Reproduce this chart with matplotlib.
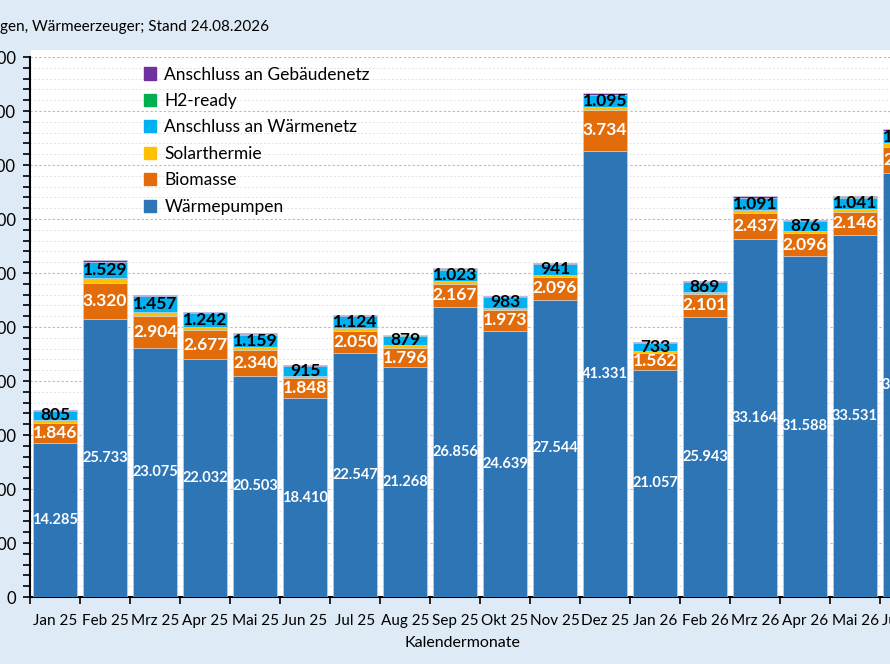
import matplotlib
matplotlib.use("Agg")
import matplotlib.pyplot as plt
import matplotlib.patches as mpatches
import numpy as np

plt.rcParams["font.family"] = ["Lato", "DejaVu Sans"]

# ─── DATEN ────────────────────────────────────────────────────────────────────
monate = ["Jan 25", "Feb 25", "Mrz 25", "Apr 25", "Mai 25", "Jun 25",
          "Jul 25", "Aug 25", "Sep 25", "Okt 25", "Nov 25", "Dez 25",
          "Jan 26", "Feb 26", "Mrz 26", "Apr 26", "Mai 26", "Jun 26"]
waermepumpen = [14285, 25733, 23075, 22032, 20503, 18410, 22547, 21268, 26856,
                24639, 27544, 41331, 21057, 25943, 33164, 31588, 33531, 39300]
biomasse = [1846, 3320, 2904, 2677, 2340, 1848, 2050, 1796, 2167,
            1973, 2096, 3734, 1562, 2101, 2437, 2096, 2146, 2400]
solarthermie = [280, 450, 400, 330, 290, 230, 300, 250, 260,
                190, 220, 330, 150, 220, 260, 240, 250, 350]
waermenetz = [805, 1529, 1457, 1242, 1159, 915, 1124, 879, 1023,
              983, 941, 1095, 733, 869, 1091, 876, 1041, 1100]
h2_ready = [20, 30, 25, 25, 20, 20, 25, 20, 25, 20, 20, 30, 20, 25, 30, 25, 25, 30]
gebaeudenetz = [90, 110, 100, 100, 90, 80, 100, 90, 110, 90, 100, 120, 80, 100, 120, 100, 110, 120]

serien = [
    ("Wärmepumpen", waermepumpen, "#2E75B6", "white", True),
    ("Biomasse", biomasse, "#E36C0A", "white", True),
    ("Solarthermie", solarthermie, "#FFC000", None, False),
    ("Anschluss an Wärmenetz", waermenetz, "#00B0F0", "black", True),
    ("H2-ready", h2_ready, "#00B050", None, False),
    ("Anschluss an Gebäudenetz", gebaeudenetz, "#7030A0", None, False),
]

def fmt(v):
    return f"{v:,}".replace(",", ".")

# ─── FIGUR ────────────────────────────────────────────────────────────────────
W, H = 890, 664
fig = plt.figure(figsize=(W / 100, H / 100), dpi=100)
fig.patch.set_facecolor("#DEEAF5")

# weisser Plotbereich (etwas hoeher als die Achse)
fig.patches.append(mpatches.Rectangle((31 / W, 67 / H), (W - 31) / W, (597 - 50) / H,
                                      transform=fig.transFigure, facecolor="white",
                                      edgecolor="none", zorder=-10))

# Achse ragt rechts ueber den Bildrand hinaus (Ausschnitt wie im Original)
ax = fig.add_axes([30 / W, 67 / H, 900 / W, 540 / H])
ax.set_facecolor("white")

x = np.arange(len(monate))
bottom = np.zeros(len(monate))
handles = []
for name, werte, farbe, txtfarbe, beschriften in serien:
    werte = np.array(werte, dtype=float)
    ax.bar(x, werte, bottom=bottom, width=0.88, color=farbe,
           edgecolor="#C9D6EA", linewidth=0.4, zorder=3)
    if beschriften:
        gr = 10.5 if name == "Wärmepumpen" else 12.5
        for xi, b, v in zip(x, bottom, werte):
            ax.text(xi, b + v / 2, fmt(int(v)), ha="center", va="center",
                    color=txtfarbe, fontsize=gr, fontweight="bold", zorder=5,
                    clip_on=True)
    handles.append(mpatches.Patch(color=farbe, label=name))
    bottom += werte

# Achsen
ax.set_yticks(np.arange(0, 50001, 5000))
ax.set_yticks(np.arange(0, 50001, 1000), minor=True)
ax.set_yticklabels([fmt(v) for v in range(0, 50001, 5000)], fontsize=12)
ax.tick_params(axis="y", which="both", direction="out", length=5, width=1.2, pad=5)

ax.set_xticks(np.arange(-0.5, len(monate), 1.0))
ax.set_xticklabels([])
ax.set_xticks(x, minor=True)
ax.set_xticklabels(monate, minor=True, fontsize=11)
ax.tick_params(axis="x", which="major", direction="out", length=5, width=1.2)
ax.tick_params(axis="x", which="minor", length=0, pad=12)

# Grenzen erst nach den Ticks setzen
ax.set_xlim(-0.5, 17.5)
ax.set_ylim(0, 50000)

ax.grid(axis="y", which="major", linestyle=(0, (2, 2)), color="#B8B8B8", linewidth=0.8, zorder=1)
ax.grid(axis="y", which="minor", linestyle=(0, (2, 2)), color="#E2E2E2", linewidth=0.7, zorder=1)
ax.set_axisbelow(True)

for s in ["top", "right"]:
    ax.spines[s].set_visible(False)
ax.spines["left"].set_linewidth(1.5)
ax.spines["bottom"].set_linewidth(1.5)

# Legende
fig.legend(handles=handles[::-1], loc="upper left",
           bbox_to_anchor=(128 / W, 1 - 51 / H), frameon=False,
           fontsize=12.5, handlelength=0.7, handleheight=0.7,
           handletextpad=0.5, labelspacing=0.6)

fig.text(462 / W, 1 - 643 / H, "Kalendermonate", ha="center", va="center", fontsize=11.5)
fig.text(0, 1 - 27 / H, "gen, Wärmeerzeuger; Stand 24.08.2026", ha="left",
         va="center", fontsize=11)

fig.savefig("out.png", dpi=100, facecolor=fig.get_facecolor())
